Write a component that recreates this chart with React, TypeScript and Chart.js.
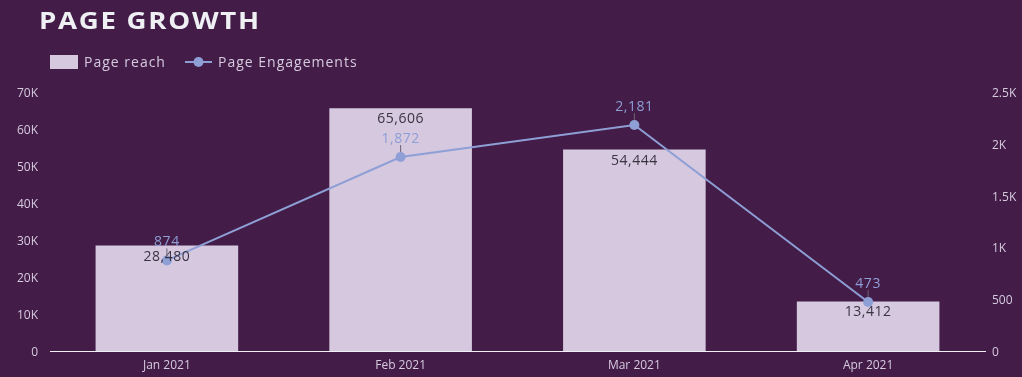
import React, { useEffect, useRef } from "react";
import { Chart, registerables } from "chart.js";

Chart.register(...registerables);

const categories = ["Jan 2021", "Feb 2021", "Mar 2021", "Apr 2021"];
const pageReach = [28480, 65606, 54444, 13412];
const pageEngagements = [874, 1872, 2181, 473];
const leftTicks = [0, 10000, 20000, 30000, 40000, 50000, 60000, 70000];
const rightTicks = [0, 500, 1000, 1500, 2000, 2500];

const BG = "#431c48";
const BAR = "#d5c8df";
const LINE = "#8e9fd6";
const AXIS_TEXT = "#d6cbdf";
const FONT = "'Open Sans', sans-serif";

function fmtK(v: number): string {
  if (v === 0) return "0";
  if (v < 1000) return String(v);
  return v / 1000 + "K";
}

const overlayPlugin = {
  id: "overlay",
  afterDatasetsDraw(chart: any) {
    const ctx = chart.ctx;
    ctx.save();
    ctx.letterSpacing = "0.5px";
    const barMeta = chart.getDatasetMeta(0);
    ctx.font = `14px ${FONT}`;
    ctx.textAlign = "center";
    ctx.textBaseline = "middle";
    ctx.fillStyle = "#3a3340";
    barMeta.data.forEach((el: any, i: number) => {
      ctx.fillText(pageReach[i].toLocaleString("en-US"), el.x, el.y + 11);
    });
    const lineMeta = chart.getDatasetMeta(1);
    lineMeta.data.forEach((el: any, i: number) => {
      ctx.strokeStyle = "#6b6470";
      ctx.lineWidth = 1;
      ctx.beginPath();
      ctx.moveTo(el.x, el.y - 12);
      ctx.lineTo(el.x, el.y - 5);
      ctx.stroke();
      ctx.fillStyle = LINE;
      ctx.fillText(pageEngagements[i].toLocaleString("en-US"), el.x, el.y - 18);
    });
    ctx.restore();
  },
  afterDraw(chart: any) {
    const ctx = chart.ctx;
    ctx.save();
    ctx.fillStyle = "#eef0f4";
    ctx.font = `bold 24px ${FONT}`;
    ctx.letterSpacing = "1.5px";
    ctx.textAlign = "left";
    ctx.textBaseline = "middle";
    ctx.save();
    ctx.translate(39, 22);
    ctx.scale(1.15, 1);
    ctx.fillText("PAGE GROWTH", 0, 0);
    ctx.restore();
    ctx.fillStyle = BAR;
    ctx.fillRect(50, 55, 28, 14);
    ctx.font = `14px ${FONT}`;
    ctx.letterSpacing = "1px";
    ctx.fillStyle = AXIS_TEXT;
    ctx.fillText("Page reach", 84, 63);
    ctx.strokeStyle = LINE;
    ctx.lineWidth = 2;
    ctx.beginPath();
    ctx.moveTo(185, 62);
    ctx.lineTo(212, 62);
    ctx.stroke();
    ctx.fillStyle = LINE;
    ctx.beginPath();
    ctx.arc(198.5, 62, 5, 0, Math.PI * 2);
    ctx.fill();
    ctx.fillStyle = AXIS_TEXT;
    ctx.fillText("Page Engagements", 218, 63);
    ctx.restore();
  },
};

export default function App() {
  const ref = useRef<HTMLCanvasElement | null>(null);
  useEffect(() => {
    document.body.style.margin = "0";
    const chart = new Chart(ref.current as HTMLCanvasElement, {
      type: "bar",
      data: {
        labels: categories,
        datasets: [
          {
            type: "bar",
            label: "Page reach",
            data: pageReach,
            backgroundColor: BAR,
            yAxisID: "y",
            barPercentage: 0.61,
            categoryPercentage: 1,
            order: 2,
          },
          {
            type: "line",
            label: "Page Engagements",
            data: pageEngagements,
            borderColor: LINE,
            backgroundColor: LINE,
            borderWidth: 2,
            pointRadius: 5,
            pointBackgroundColor: LINE,
            pointBorderWidth: 0,
            yAxisID: "y1",
            order: 1,
          },
        ],
      },
      options: {
        animation: false,
        responsive: false,
        maintainAspectRatio: false,
        layout: { padding: { top: 92, left: 0, right: 0, bottom: 0 } },
        plugins: {
          legend: { display: false },
          title: { display: false },
          tooltip: { enabled: false },
        },
        scales: {
          x: {
            grid: { display: false, drawTicks: false },
            border: { display: true, color: "#f2eef5", width: 1 },
            ticks: { color: AXIS_TEXT, font: { family: FONT, size: 12 }, padding: 7 },
            afterFit(s: any) {
              s.height = 26;
            },
          },
          y: {
            position: "left",
            min: 0,
            max: 70000,
            afterBuildTicks(s: any) {
              s.ticks = leftTicks.map((v) => ({ value: v }));
            },
            grid: { display: false, drawTicks: false },
            border: { display: false },
            ticks: {
              color: AXIS_TEXT,
              font: { family: FONT, size: 12 },
              padding: 12,
              labelOffset: 1.5,
              callback: (v: any) => fmtK(Number(v)),
            },
            afterFit(s: any) {
              s.width = 50;
            },
          },
          y1: {
            position: "right",
            min: 0,
            max: 2500,
            afterBuildTicks(s: any) {
              s.ticks = rightTicks.map((v) => ({ value: v }));
            },
            grid: { display: false, drawTicks: false },
            border: { display: false },
            ticks: {
              color: AXIS_TEXT,
              font: { family: FONT, size: 12 },
              padding: 7,
              labelOffset: 1.5,
              callback: (v: any) => fmtK(Number(v)),
            },
            afterFit(s: any) {
              s.width = 37;
            },
          },
        },
      },
      plugins: [overlayPlugin],
    } as any);
    return () => chart.destroy();
  }, []);
  return (
    <div style={{ position: "fixed", left: 0, top: 0, width: 1022, height: 377, background: BG }}>
      <canvas ref={ref} width={1022} height={377} style={{ display: "block" }} />
    </div>
  );
}
